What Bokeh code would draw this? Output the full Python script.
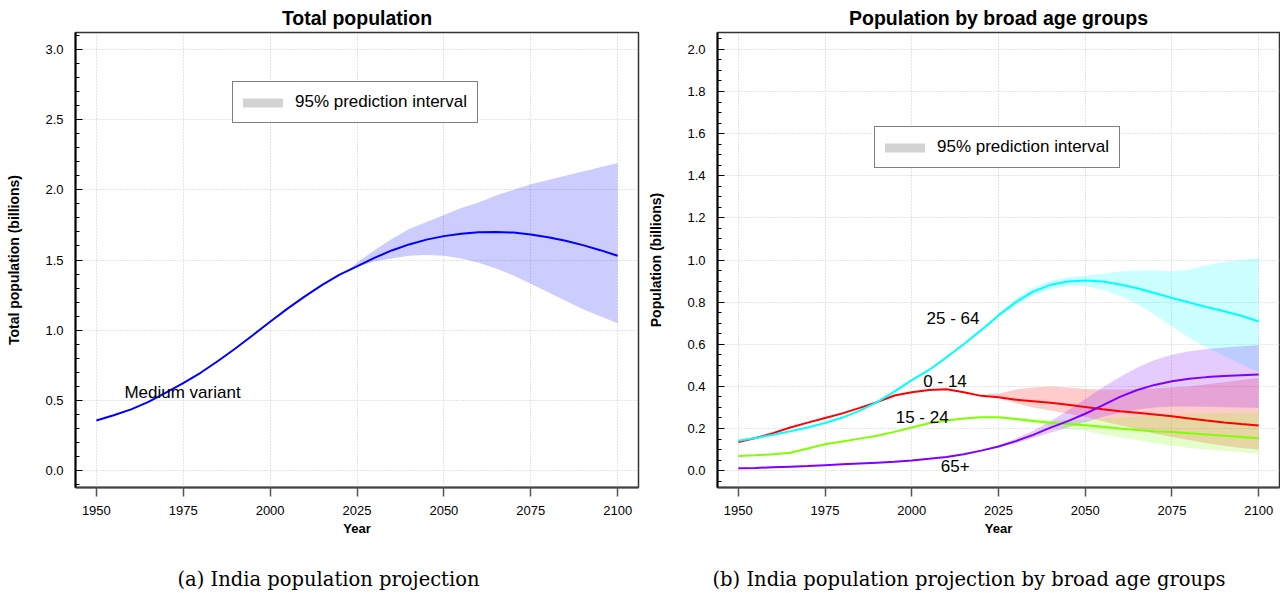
from bokeh.plotting import figure
from bokeh.models import (Range1d, FixedTicker, Legend, LegendItem, Title,
                          ColumnDataSource, NumeralTickFormatter)
from bokeh.layouts import row
from bokeh.embed import file_html
from bokeh.resources import INLINE
from bokeh.core.properties import value

# ---------------- data ----------------
years = [1950, 1955, 1960, 1965, 1970, 1975, 1980, 1985, 1990, 1995, 2000,
         2005, 2010, 2015, 2020, 2025, 2030, 2035, 2040, 2045, 2050, 2055,
         2060, 2065, 2070, 2075, 2080, 2085, 2090, 2095, 2100]
pi_years = [2022, 2025, 2030, 2035, 2040, 2045, 2050, 2055, 2060, 2065, 2070,
            2075, 2080, 2085, 2090, 2095, 2100]

# total population (billions)
total_median = [0.357, 0.394, 0.436, 0.490, 0.555, 0.623, 0.697, 0.781, 0.870,
                0.964, 1.060, 1.154, 1.241, 1.323, 1.396, 1.455, 1.515, 1.568,
                1.611, 1.645, 1.670, 1.687, 1.697, 1.700, 1.695, 1.681, 1.662,
                1.637, 1.606, 1.570, 1.530]
total_upper = [1.42, 1.48, 1.57, 1.65, 1.72, 1.77, 1.82, 1.87, 1.91, 1.96, 2.00,
               2.04, 2.07, 2.10, 2.13, 2.16, 2.19]
total_lower = [1.41, 1.45, 1.49, 1.51, 1.53, 1.535, 1.53, 1.51, 1.48, 1.44, 1.39,
               1.33, 1.27, 1.21, 1.15, 1.10, 1.05]

# broad age groups (billions)
age_0_14 = [0.136, 0.155, 0.178, 0.205, 0.228, 0.250, 0.272, 0.298, 0.325, 0.357,
            0.372, 0.383, 0.386, 0.372, 0.355, 0.348, 0.337, 0.330, 0.322, 0.313,
            0.302, 0.291, 0.282, 0.275, 0.267, 0.258, 0.248, 0.238, 0.229, 0.221,
            0.214]
age_15_24 = [0.069, 0.073, 0.078, 0.085, 0.105, 0.125, 0.138, 0.152, 0.166, 0.184,
             0.205, 0.225, 0.238, 0.248, 0.254, 0.253, 0.245, 0.236, 0.227, 0.221,
             0.216, 0.208, 0.200, 0.193, 0.187, 0.183, 0.178, 0.172, 0.166, 0.160,
             0.154]
age_25_64 = [0.142, 0.155, 0.170, 0.187, 0.205, 0.226, 0.252, 0.285, 0.325, 0.375,
             0.430, 0.478, 0.538, 0.600, 0.667, 0.737, 0.800, 0.850, 0.882, 0.898,
             0.903, 0.898, 0.884, 0.866, 0.843, 0.820, 0.798, 0.777, 0.757, 0.735,
             0.708]
age_65 = [0.011, 0.013, 0.016, 0.019, 0.022, 0.026, 0.030, 0.034, 0.038, 0.042,
          0.048, 0.056, 0.065, 0.078, 0.095, 0.115, 0.140, 0.170, 0.204, 0.235,
          0.270, 0.310, 0.350, 0.383, 0.407, 0.424, 0.436, 0.444, 0.449, 0.453,
          0.456]

up_0_14 = [0.365, 0.365, 0.385, 0.395, 0.400, 0.395, 0.388, 0.385, 0.385, 0.387,
           0.390, 0.395, 0.400, 0.410, 0.420, 0.430, 0.440]
lo_0_14 = [0.360, 0.345, 0.320, 0.300, 0.285, 0.270, 0.255, 0.235, 0.215, 0.195,
           0.175, 0.160, 0.145, 0.130, 0.118, 0.108, 0.100]
up_15_24 = [0.256, 0.256, 0.252, 0.245, 0.240, 0.240, 0.243, 0.247, 0.252, 0.257,
            0.262, 0.266, 0.270, 0.272, 0.274, 0.275, 0.275]
lo_15_24 = [0.252, 0.250, 0.238, 0.225, 0.210, 0.198, 0.188, 0.172, 0.158, 0.145,
            0.130, 0.118, 0.108, 0.100, 0.093, 0.087, 0.080]
up_25_64 = [0.690, 0.745, 0.815, 0.868, 0.900, 0.918, 0.925, 0.935, 0.945, 0.950,
            0.950, 0.945, 0.955, 0.975, 0.990, 1.000, 1.010]
lo_25_64 = [0.680, 0.730, 0.785, 0.830, 0.860, 0.875, 0.875, 0.858, 0.830, 0.790,
            0.740, 0.685, 0.630, 0.585, 0.545, 0.505, 0.470]
up_65 = [0.105, 0.120, 0.152, 0.190, 0.235, 0.285, 0.340, 0.395, 0.445, 0.490,
         0.525, 0.550, 0.567, 0.578, 0.585, 0.590, 0.595]
lo_65 = [0.100, 0.110, 0.130, 0.155, 0.180, 0.205, 0.230, 0.255, 0.275, 0.290,
         0.300, 0.305, 0.305, 0.303, 0.301, 0.300, 0.298]

x_ticks = [1950, 1975, 2000, 2025, 2050, 2075, 2100]
y_ticks_total = [0.0, 0.5, 1.0, 1.5, 2.0, 2.5, 3.0]
y_ticks_age = [0.0, 0.2, 0.4, 0.6, 0.8, 1.0, 1.2, 1.4, 1.6, 1.8, 2.0]

age_labels = ["25 - 64", "0 - 14", "15 - 24", "65+"]
age_label_x = [2011.9, 2009.6, 2003.0, 2012.5]
age_label_y = [0.723, 0.421, 0.251, 0.024]

FONT = "Liberation Sans"
SERIF = "DejaVu Serif"
W = 640
H = 593


def make_fig(title, ylab, yr, yticks, yminor, bl, br, caption, cap_offset,
             legend_loc):
    p = figure(width=W, height=H, x_range=Range1d(1944, 2106),
               y_range=Range1d(*yr), output_backend="svg", toolbar_location=None,
               min_border_left=bl, min_border_right=br, min_border_top=32,
               min_border_bottom=H - 32 - 455)
    p.background_fill_color = "white"
    p.border_fill_color = "white"
    p.outline_line_color = "#333333"
    p.outline_line_width = 1.5

    p.title.text = title
    p.title.align = "center"
    p.title.text_font = FONT
    p.title.text_font_size = "19.5px"
    p.title.text_font_style = "bold"
    p.title.text_color = "black"
    p.title.standoff = 8

    xt = FixedTicker(ticks=x_ticks)
    p.xaxis.ticker = xt
    p.xgrid.ticker = xt
    p.xaxis.axis_label = "Year"
    p.xaxis.axis_label_text_font = FONT
    p.xaxis.axis_label_text_font_size = "13px"
    p.xaxis.axis_label_text_font_style = "bold"
    p.xaxis.axis_label_text_color = "black"
    p.xaxis.axis_label_standoff = 3
    p.xaxis.major_label_text_font = FONT
    p.xaxis.major_label_text_font_size = "13px"
    p.xaxis.major_label_text_color = "black"
    p.xaxis.major_label_standoff = 9
    p.xaxis.major_tick_out = 9
    p.xaxis.major_tick_in = 0
    p.xaxis.major_tick_line_color = "#555555"
    p.xaxis.major_tick_line_width = 1.5
    p.xaxis.minor_tick_line_color = None
    p.xaxis.axis_line_color = "#444444"
    p.xaxis.axis_line_width = 2

    yt = FixedTicker(ticks=yticks, minor_ticks=yminor)
    p.yaxis.ticker = yt
    p.ygrid.ticker = FixedTicker(ticks=yticks)
    p.yaxis.formatter = NumeralTickFormatter(format="0.0")
    p.yaxis.axis_label = ylab
    p.yaxis.axis_label_text_font = FONT
    p.yaxis.axis_label_text_font_size = "14px"
    p.yaxis.axis_label_text_font_style = "bold"
    p.yaxis.axis_label_text_color = "black"
    p.yaxis.axis_label_standoff = 20
    p.yaxis.major_label_text_font = FONT
    p.yaxis.major_label_text_font_size = "13px"
    p.yaxis.major_label_text_color = "black"
    p.yaxis.major_label_standoff = 12
    p.yaxis.major_tick_in = 7
    p.yaxis.major_tick_out = 0
    p.yaxis.minor_tick_in = 4
    p.yaxis.minor_tick_out = 0
    p.yaxis.major_tick_line_color = "black"
    p.yaxis.minor_tick_line_color = "black"
    p.yaxis.axis_line_color = "black"
    p.yaxis.axis_line_width = 2

    for g in (p.xgrid, p.ygrid):
        g.grid_line_color = "#c8c8c8"
        g.grid_line_dash = "1 2"
        g.grid_line_width = 1

    # blank spacer between the x axis and the caption
    spacer = Title(text=" ", text_font=SERIF, text_font_size="16px", standoff=6)
    p.add_layout(spacer, "below")
    cap = Title(text=caption, align="left", offset=cap_offset,
                text_font=SERIF, text_font_size="19.5px", text_font_style="normal",
                text_color="black", standoff=0)
    p.add_layout(cap, "below")

    nan_y = [float("nan")] * len(pi_years)
    leg_r = p.line(x=pi_years, y=nan_y, line_color="#D3D3D3", line_width=9,
                   line_cap="round")
    legend = Legend(items=[LegendItem(label="95% prediction interval", renderers=[leg_r])],
                    location=legend_loc, border_line_color="black",
                    border_line_width=1, background_fill_color="white",
                    background_fill_alpha=1, padding=10, glyph_width=40,
                    glyph_height=17, label_height=17, label_standoff=12,
                    label_text_font=FONT, label_text_font_size="17px",
                    label_text_color="black", margin=0, spacing=0)
    p.add_layout(legend)
    return p


# ---------------- panel (a) ----------------
minor_a = [round(-0.1 + 0.1 * i, 2) for i in range(33)]
p1 = make_fig("Total population", "Total population (billions)", (-0.12, 3.12),
              y_ticks_total, minor_a, 75, 2,
              "(a) India population projection", 102, (157, 364))
p1.varea(x=pi_years, y1=total_lower, y2=total_upper, fill_color="#0000FF",
         fill_alpha=0.2)
p1.line(years, total_median, line_color="#0000FF", line_width=2)
p1.text(x=[1974.8], y=[0.553], text=["Medium variant"], text_align="center",
        text_baseline="middle", text_font=value(FONT), text_font_size="17px",
        text_color="black")

# ---------------- panel (b) ----------------
minor_b = [round(-0.05 + 0.05 * i, 3) for i in range(43)]
p2 = make_fig("Population by broad age groups", "Population (billions)",
              (-0.08, 2.08), y_ticks_age, minor_b, 77, 1,
              "(b) India population projection by broad age groups", -5,
              (157, 319))
bands = [(lo_0_14, up_0_14, "#FF0000"), (lo_15_24, up_15_24, "#7FFF00"),
         (lo_25_64, up_25_64, "#00FFFF"), (lo_65, up_65, "#7F00FF")]
for lo, up, c in bands:
    p2.varea(x=pi_years, y1=lo, y2=up, fill_color=c, fill_alpha=0.2)
for ser, c in [(age_0_14, "#FF0000"), (age_15_24, "#7FFF00"),
               (age_25_64, "#00FFFF"), (age_65, "#7F00FF")]:
    p2.line(years, ser, line_color=c, line_width=2)
src = ColumnDataSource(dict(x=age_label_x, y=age_label_y, t=age_labels))
p2.text(x="x", y="y", text="t", source=src, text_align="center",
        text_baseline="middle", text_font=value(FONT), text_font_size="17px",
        text_color="black")

layout = row(p1, p2)
open("out.html", "w").write(file_html(layout, INLINE))
